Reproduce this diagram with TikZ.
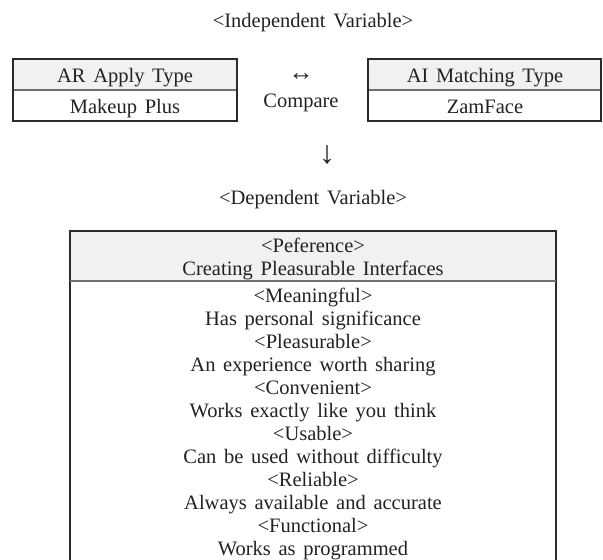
\documentclass[tikz,border=0pt]{standalone}
\usepackage{fontspec}
\setmainfont{Liberation Serif}[WordSpace=1.5]
\definecolor{txt}{HTML}{222222}
\definecolor{edge}{HTML}{2B2B2B}
\definecolor{sep}{HTML}{707070}
\definecolor{headfill}{HTML}{F1F1F1}
\begin{document}
\begin{tikzpicture}[x=1pt,y=-1pt,
  lbl/.style={font=\fontsize{20.5}{23}\selectfont, text=txt, inner sep=0pt, anchor=base},
  arrowglyph/.style={text=txt, inner sep=0pt, anchor=center},
  boxline/.style={draw=edge, line width=1.2pt},
  sepline/.style={draw=sep, line width=1.5pt},
  headcell/.style={fill=headfill}]
\useasboundingbox (0,0) rectangle (603,560);

% independent variable title
\node[lbl] (indep) at (313,27) {<Independent Variable>};

% left box
\path[headcell] (13,59) rectangle (237,90);
\draw[sepline] (13,90) -- (237,90);
\draw[boxline] (13,59) rectangle (237,121);
\node[lbl] (arType) at (125,82) {AR Apply Type};
\node[lbl] (arApp) at (125,113) {Makeup Plus};

% right box
\path[headcell] (368,59) rectangle (601,90);
\draw[sepline] (368,90) -- (601,90);
\draw[boxline] (368,59) rectangle (601,121);
\node[lbl] (aiType) at (485,82) {AI Matching Type};
\node[lbl] (aiApp) at (485,113) {ZamFace};

% compare
\node[arrowglyph, font=\fontsize{25}{25}\selectfont] (both) at (301,77) {↔};
\node[lbl] (cmp) at (301,107) {Compare};

% down arrow
\node[arrowglyph, font=\fontsize{32}{32}\selectfont] (down) at (327,155) {↓};

% dependent variable title
\node[lbl] (dep) at (313,204) {<Dependent Variable>};

% table
\path[headcell] (70,231) rectangle (556,281);
\draw[boxline] (70,560) -- (70,231) -- (556,231) -- (556,560);
\draw[sepline] (70,281) -- (556,281);
\node[lbl] (h1) at (313,252) {<Peference>};
\node[lbl] (h2) at (313,275) {Creating Pleasurable Interfaces};

\node[lbl] (r1)  at (313,302) {<Meaningful>};
\node[lbl] (r2)  at (313,325) {Has personal significance};
\node[lbl] (r3)  at (313,348) {<Pleasurable>};
\node[lbl] (r4)  at (313,371) {An experience worth sharing};
\node[lbl] (r5)  at (313,394) {<Convenient>};
\node[lbl] (r6)  at (313,417) {Works exactly like you think};
\node[lbl] (r7)  at (313,440) {<Usable>};
\node[lbl] (r8)  at (313,463) {Can be used without difficulty};
\node[lbl] (r9)  at (313,486) {<Reliable>};
\node[lbl] (r10) at (313,509) {Always available and accurate};
\node[lbl] (r11) at (313,532) {<Functional>};
\node[lbl] (r12) at (313,555) {Works as programmed};
\end{tikzpicture}
\end{document}
